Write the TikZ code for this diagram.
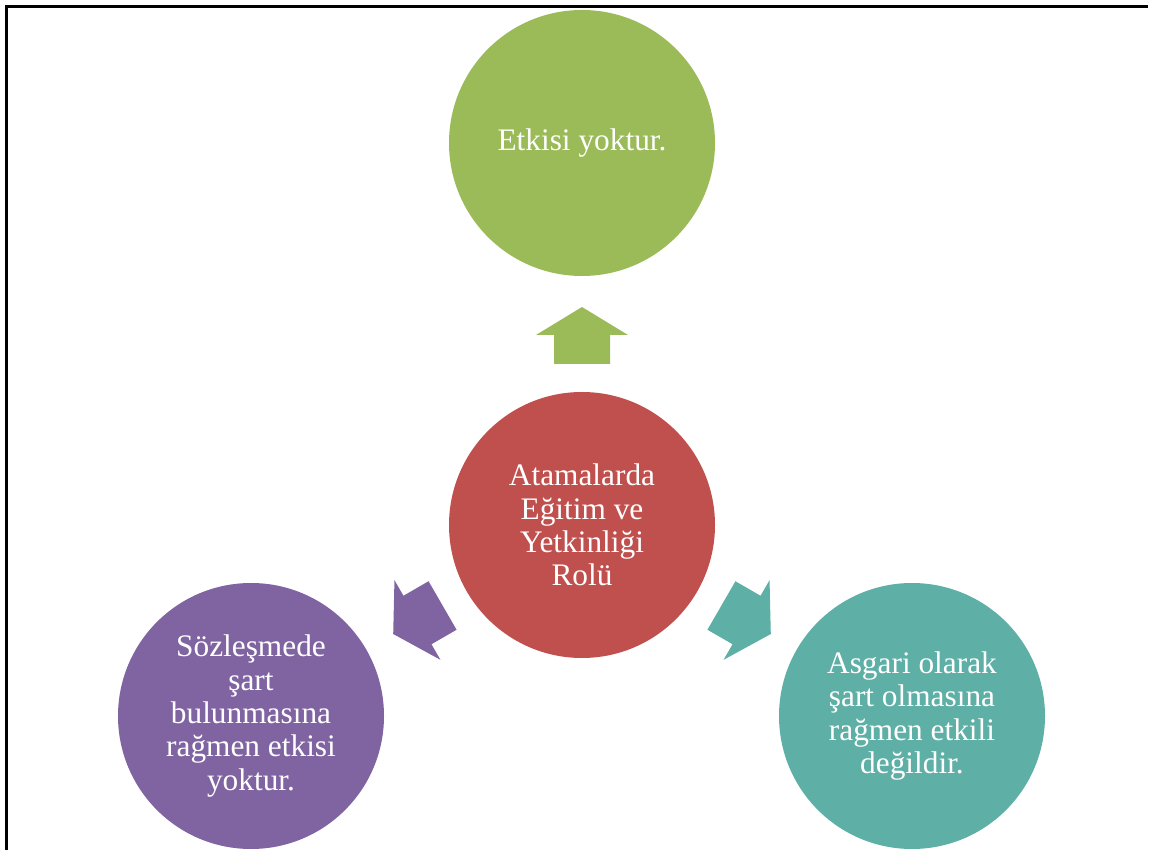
\documentclass[tikz,border=0pt]{standalone}
\usepackage{fontspec}
\setmainfont{Liberation Serif}
\definecolor{cgreen}{HTML}{9BBB59}
\definecolor{cred}{HTML}{C0504D}
\definecolor{cpurple}{HTML}{8064A2}
\definecolor{cteal}{HTML}{5EAFA6}
\tikzset{
  bubble/.style={circle, minimum size=199.5pt, inner sep=0pt, text=white, align=center,
    font=\fontsize{23.5}{25}\selectfont},
}
\newcommand{\myblockarrow}[2]{%
  \begin{scope}[shift={(ctr.center)}, rotate=#1]
    \fill[#2] (-28,161) -- (-28,190) -- (-46,190) -- (0,218) -- (46,190) -- (28,190) -- (28,161) -- cycle;
  \end{scope}}
\begin{document}
\begin{tikzpicture}[x=0.75pt, y=0.75pt]
\useasboundingbox (0,0) rectangle (1153,850);
\draw[line width=1.6pt] (6.5,0) -- (6.5,843.5) -- (1148,843.5);
\node[bubble, fill=cred] (ctr) at (582,325) {Atamalarda\\Eğitim ve\\Yetkinliği\\Rolü};
\node[bubble, fill=cgreen] (top) at (582,707) {Etkisi yoktur.};
\node[bubble, fill=cpurple] (left) at (251,134) {Sözleşmede\\şart\\bulunmasına\\rağmen etkisi\\yoktur.};
\node[bubble, fill=cteal] (right) at (912,134) {Asgari olarak\\şart olmasına\\rağmen etkili\\değildir.};
\myblockarrow{0}{cgreen}
\myblockarrow{120}{cpurple}
\myblockarrow{-120}{cteal}
\end{tikzpicture}
\end{document}
